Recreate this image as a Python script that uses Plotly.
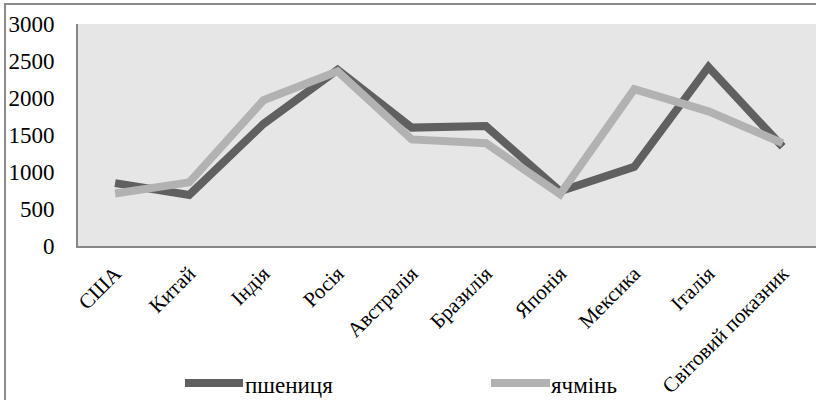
import plotly.graph_objects as go

countries = ["США", "Китай", "Індія", "Росія", "Австралія", "Бразилія",
             "Японія", "Мексика", "Італія", "Світовий показник"]
wheat = [850, 690, 1650, 2380, 1600, 1620, 740, 1070, 2420, 1340]
barley = [710, 860, 1970, 2360, 1440, 1390, 700, 2120, 1820, 1390]
y_ticks = [0, 500, 1000, 1500, 2000, 2500, 3000]

WHEAT_COLOR = "#606060"
BARLEY_COLOR = "#b2b2b2"
FONT = "Liberation Serif"

W, H = 816, 400
L, R, T, B = 78, 0, 24, 154
pw, ph = W - L - R, H - T - B


def px_x(x):
    return (x - L) / pw


def px_y(y):
    return (H - B - y) / ph


fig = go.Figure()
fig.add_trace(go.Scatter(x=countries, y=wheat, name="пшениця", mode="lines",
                         line=dict(color=WHEAT_COLOR, width=8)))
fig.add_trace(go.Scatter(x=countries, y=barley, name="ячмінь", mode="lines",
                         line=dict(color=BARLEY_COLOR, width=8)))

shapes = [
    # outer chart frame
    dict(type="rect", xref="paper", yref="paper",
         x0=px_x(5), x1=px_x(830), y0=px_y(4), y1=px_y(410),
         line=dict(color="#8a8a8a", width=2), layer="above"),
]
annotations = []
# legend entries
for (x0, x1, tx, label, color) in [(185, 243, 243, "пшениця", WHEAT_COLOR),
                                    (491, 550, 549, "ячмінь", BARLEY_COLOR)]:
    shapes.append(dict(type="line", xref="paper", yref="paper",
                       x0=px_x(x0), x1=px_x(x1), y0=px_y(383), y1=px_y(383),
                       line=dict(color=color, width=8)))
    annotations.append(dict(xref="paper", yref="paper", x=px_x(tx), y=px_y(385),
                            text=label, showarrow=False, xanchor="left",
                            yanchor="middle",
                            font=dict(family=FONT, size=23, color="black")))

fig.update_layout(
    width=W, height=H,
    margin=dict(l=L, r=R, t=T, b=B, autoexpand=False),
    paper_bgcolor="white",
    plot_bgcolor="#e6e6e6",
    showlegend=False,
    font=dict(family=FONT, size=23, color="black"),
    shapes=shapes,
    annotations=annotations,
)
fig.update_xaxes(type="category", range=[-0.5, 9.45], showgrid=False,
                 automargin=False,
                 showline=True, linecolor="#868686", linewidth=2,
                 ticks="", tickangle=-45, ticklabelstandoff=5,
                 tickfont=dict(family=FONT, size=21, color="black"))
fig.update_yaxes(range=[0, 3000], tickvals=y_ticks, showgrid=False,
                 automargin=False,
                 zeroline=False, showline=True, linecolor="#868686",
                 linewidth=2, ticks="", ticklabelstandoff=17,
                 tickfont=dict(family=FONT, size=23, color="black"))

fig.write_html("out.html")
